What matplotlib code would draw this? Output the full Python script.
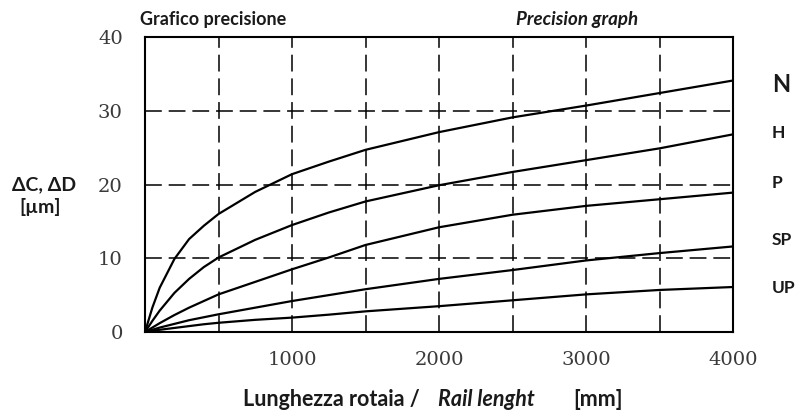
import numpy as np
import matplotlib.pyplot as plt

# rail length [mm] and accuracy per class [um]
length = [0, 50, 100, 200, 300, 400, 500, 750, 1000, 1250, 1500, 2000, 2500, 3000, 3500, 4000]
acc_N = [0, 3.3, 6.0, 9.9, 12.6, 14.4, 16.0, 19.0, 21.4, 23.1, 24.7, 27.1, 29.1, 30.7, 32.4, 34.1]
acc_H = [0, 1.5, 2.9, 5.3, 7.2, 8.8, 10.1, 12.5, 14.5, 16.2, 17.7, 19.9, 21.7, 23.3, 24.9, 26.8]
acc_P = [0, 0.6, 1.2, 2.3, 3.3, 4.2, 5.1, 6.8, 8.5, 10.1, 11.8, 14.2, 15.9, 17.1, 18.0, 18.9]
acc_SP = [0, 0.3, 0.6, 1.1, 1.6, 2.0, 2.4, 3.3, 4.2, 5.0, 5.8, 7.2, 8.4, 9.7, 10.7, 11.6]
acc_UP = [0, 0.15, 0.3, 0.55, 0.8, 1.05, 1.25, 1.65, 1.95, 2.35, 2.8, 3.5, 4.3, 5.1, 5.7, 6.1]

classes = ['N', 'H', 'P', 'SP', 'UP']
class_y = [85, 133, 183, 240, 288]   # label centres in px
class_size = [17, 12.5, 12.5, 12.5, 12.5]

W, H = 799, 418
fig = plt.figure(figsize=(W/100, H/100), dpi=100)
ax = fig.add_axes([145/W, 1-332/H, (733-145)/W, (332-37)/H])

for acc in [acc_N, acc_H, acc_P, acc_SP, acc_UP]:
	ax.plot(length, acc, color='black', lw=1.6, solid_joinstyle='round', zorder=3)

# dashed grid
for gx in np.arange(500, 4000, 500):
	ax.axvline(gx, color='black', lw=1.1, dashes=(11, 4.5), zorder=2)
for gy in [10, 20, 30]:
	ax.axhline(gy, color='black', lw=1.1, dashes=(11, 4.5), zorder=2)

ax.set_xlim(0, 4000)
ax.set_ylim(0, 40)
ax.set_xticks([1000, 2000, 3000, 4000])
ax.set_yticks([0, 10, 20, 30, 40])
ax.tick_params(length=0, labelsize=14, labelcolor='#3a3a3a')
ax.tick_params(axis='x', pad=14)
ax.tick_params(axis='y', pad=16)
for lab in ax.get_xticklabels() + ax.get_yticklabels():
	lab.set_family('DejaVu Serif')
for sp in ax.spines.values():
	sp.set_linewidth(1.5)

def ftext(x, y, s, **kw):
	fig.text(x/W, 1-y/H, s, family=['Lato', 'DejaVu Sans'], fontweight='bold', color='#1a1a1a', va='center', **kw)

ftext(140, 20, 'Grafico precisione', fontsize=13)
ftext(577, 20, 'Precision graph', fontsize=13.5, style='italic', ha='center')

for name, yy, fs in zip(classes, class_y, class_size):
	ftext(772, yy, name, fontsize=fs)

ftext(44, 185, 'ΔC, ΔD', fontsize=14, ha='center')
ftext(40, 207, '[µm]', fontsize=14, ha='center')

ftext(243, 400, 'Lunghezza rotaia /', fontsize=15.5)
ftext(438, 400, 'Rail lenght', fontsize=15.5, style='italic')
ftext(573, 400, '[mm]', fontsize=15.5)

fig.savefig('out.png', dpi=100)
